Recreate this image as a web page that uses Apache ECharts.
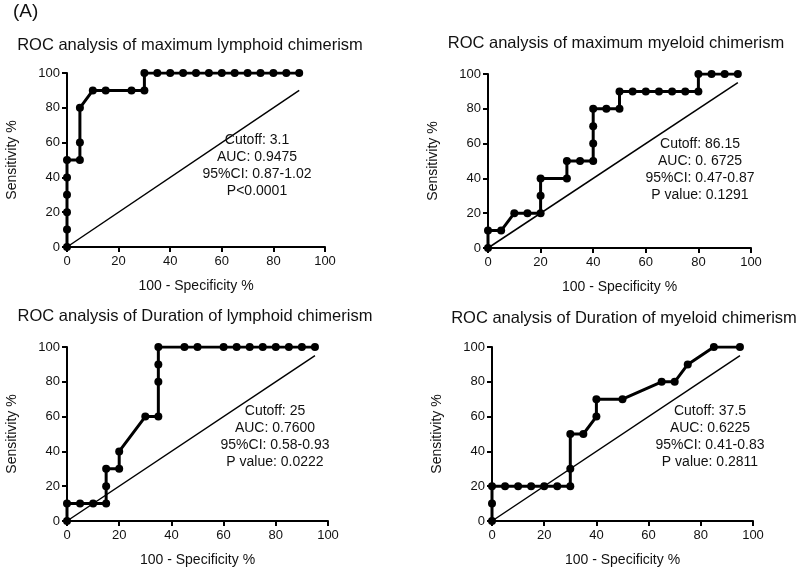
<!DOCTYPE html>
<html>
<head>
<meta charset="utf-8">
<script src="https://cdn.jsdelivr.net/npm/echarts@6/dist/echarts.min.js"></script>
<style>
  html, body { margin: 0; padding: 0; background: #fff; }
  #chart { width: 800px; height: 572px; }
</style>
</head>
<body>
<div id="chart"></div>
<script>
// ROC curves: x = 100 - specificity %, y = sensitivity %
const lymphMaxFpr  = [0, 0, 0, 0, 0, 0, 5, 5, 5, 10, 15, 25, 30, 30, 35, 40, 45, 50, 55, 60, 65, 70, 75, 80, 85, 90];
const lymphMaxSens = [0, 10, 20, 30, 40, 50, 50, 60, 80, 90, 90, 90, 90, 100, 100, 100, 100, 100, 100, 100, 100, 100, 100, 100, 100, 100];

const myeloMaxFpr  = [0, 0, 5, 10, 15, 20, 20, 20, 30, 30, 35, 40, 40, 40, 40, 45, 50, 50, 55, 60, 65, 70, 75, 80, 80, 85, 90, 95];
const myeloMaxSens = [0, 10, 10, 20, 20, 20, 30, 40, 40, 50, 50, 50, 60, 70, 80, 80, 80, 90, 90, 90, 90, 90, 90, 90, 100, 100, 100, 100];

const lymphDurFpr  = [0, 0, 5, 10, 15, 15, 15, 20, 20, 30, 35, 35, 35, 35, 45, 50, 60, 65, 70, 75, 80, 85, 90, 95];
const lymphDurSens = [0, 10, 10, 10, 10, 20, 30, 30, 40, 60, 60, 80, 90, 100, 100, 100, 100, 100, 100, 100, 100, 100, 100, 100];

const myeloDurFpr  = [0, 0, 0, 5, 10, 15, 20, 25, 30, 30, 30, 35, 40, 40, 50, 65, 70, 75, 85, 95];
const myeloDurSens = [0, 10, 20, 20, 20, 20, 20, 20, 20, 30, 50, 50, 60, 70, 70, 80, 80, 90, 100, 100];

const titles = [
  'ROC analysis of maximum lymphoid chimerism',
  'ROC analysis of maximum myeloid chimerism',
  'ROC analysis of Duration of lymphoid chimerism',
  'ROC analysis of Duration of myeloid chimerism'
];
const notes = [
  ['Cutoff: 3.1', 'AUC: 0.9475', '95%CI: 0.87-1.02', 'P<0.0001'],
  ['Cutoff: 86.15', 'AUC: 0. 6725', '95%CI: 0.47-0.87', 'P value: 0.1291'],
  ['Cutoff: 25', 'AUC: 0.7600', '95%CI: 0.58-0.93', 'P value: 0.0222'],
  ['Cutoff: 37.5', 'AUC: 0.6225', '95%CI: 0.41-0.83', 'P value: 0.2811']
];
const diagonalEnd = [90, 95, 95, 95];
const xTicks = [0, 20, 40, 60, 80, 100];
const yTicks = [0, 20, 40, 60, 80, 100];

const curves = [
  [lymphMaxFpr, lymphMaxSens],
  [myeloMaxFpr, myeloMaxSens],
  [lymphDurFpr, lymphDurSens],
  [myeloDurFpr, myeloDurSens]
];

const FONT = '"Liberation Sans", Arial, sans-serif';
const grids = [
  { left: 67, top: 73, width: 258, height: 174 },
  { left: 488, top: 74, width: 263, height: 174 },
  { left: 67, top: 347, width: 261, height: 174 },
  { left: 492, top: 347, width: 261, height: 174 }
];
const titlePos = [[190, 45], [616, 43], [195, 316], [624, 318]];
const notePos = [[257, 166], [700, 170], [275, 437], [710, 437]];

const axisCommon = {
  min: 0, max: 100, interval: 20,
  axisLine: { lineStyle: { color: '#000', width: 2 } },
  axisTick: { length: 5, lineStyle: { color: '#000', width: 2 } },
  axisLabel: { color: '#111', fontSize: 13, fontFamily: FONT },
  splitLine: { show: false },
  nameTextStyle: { color: '#111', fontSize: 14, fontFamily: FONT }
};

const xAxes = grids.map((g, i) => Object.assign({}, axisCommon, {
  type: 'value', gridIndex: i,
  axisLabel: Object.assign({}, axisCommon.axisLabel, { margin: 8, formatter: v => xTicks.includes(v) ? String(v) : '' }),
  name: '100 - Specificity %', nameLocation: 'middle', nameGap: 32
}));
const yAxes = grids.map((g, i) => Object.assign({}, axisCommon, {
  type: 'value', gridIndex: i,
  axisLabel: Object.assign({}, axisCommon.axisLabel, { margin: 7, formatter: v => yTicks.includes(v) ? String(v) : '' }),
  name: 'Sensitivity %', nameLocation: 'middle', nameGap: 48
}));

const series = [];
curves.forEach((c, i) => {
  series.push({
    type: 'line', xAxisIndex: i, yAxisIndex: i,
    data: [[0, 0], [diagonalEnd[i], diagonalEnd[i]]],
    showSymbol: false, silent: true,
    lineStyle: { color: '#000', width: 1.5 }
  });
  series.push({
    type: 'line', xAxisIndex: i, yAxisIndex: i,
    data: c[0].map((x, k) => [x, c[1][k]]),
    symbol: 'circle', symbolSize: 8,
    itemStyle: { color: '#000' },
    lineStyle: { color: '#000', width: 3 },
    z: 5
  });
});

const graphic = [{
  type: 'text', left: 13, top: 2,
  style: { text: '(A)', fill: '#111', font: '19px ' + FONT }
}];
titles.forEach((t, i) => {
  graphic.push({
    type: 'text', x: titlePos[i][0], y: titlePos[i][1],
    style: { text: t, fill: '#111', font: '16.5px ' + FONT, textAlign: 'center', textVerticalAlign: 'middle' }
  });
});
notes.forEach((lines, i) => {
  graphic.push({
    type: 'text', x: notePos[i][0], y: notePos[i][1],
    style: { text: lines.join('\n'), fill: '#111', font: '14px ' + FONT, lineHeight: 17, textAlign: 'center', textVerticalAlign: 'middle' },
    z: 10
  });
});

const chart = echarts.init(document.getElementById('chart'));
chart.setOption({
  animation: false,
  backgroundColor: '#fff',
  grid: grids,
  xAxis: xAxes,
  yAxis: yAxes,
  series: series,
  graphic: graphic
});
</script>
</body>
</html>
